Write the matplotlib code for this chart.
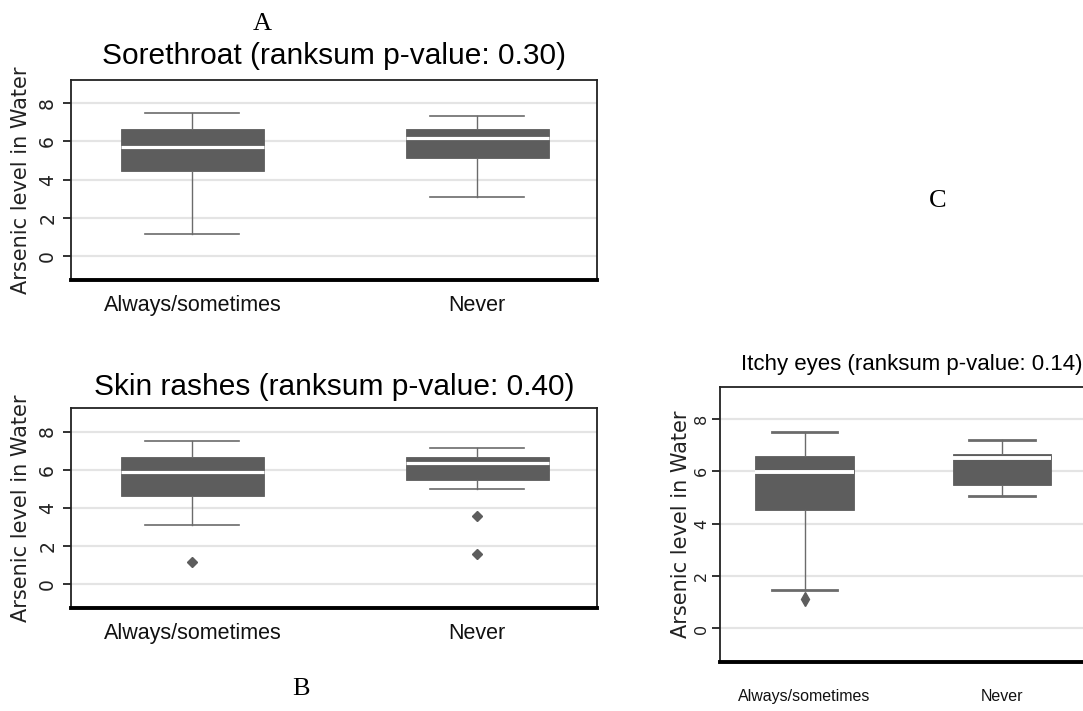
import matplotlib
matplotlib.use("Agg")
import matplotlib.pyplot as plt

# Categories shared by the three panels
groups = ["Always/sometimes", "Never"]
yticks = [0, 2, 4, 6, 8]

# Sorethroat: box statistics of arsenic level in water
sore_q1 = [4.44, 5.14]
sore_med = [5.68, 6.17]
sore_q3 = [6.67, 6.67]
sore_lo = [1.12, 3.09]
sore_hi = [7.49, 7.32]
sore_out = [[], []]

# Skin rashes
rash_q1 = [4.62, 5.47]
rash_med = [5.87, 6.36]
rash_q3 = [6.64, 6.64]
rash_lo = [3.08, 4.98]
rash_hi = [7.48, 7.15]
rash_out = [[1.17], [3.56, 1.57]]

# Itchy eyes
itch_q1 = [4.52, 5.46]
itch_med = [5.98, 6.49]
itch_q3 = [6.58, 6.68]
itch_lo = [1.46, 5.06]
itch_hi = [7.51, 7.21]
itch_out = [[1.13], []]

W, H = 1083, 711
fig = plt.figure(figsize=(W / 100, H / 100), dpi=100)
fig.patch.set_facecolor("white")

BOX = "#5d5d5d"
WHISK = "#6b6b6b"
SANS = ["Liberation Sans", "DejaVu Sans"]


def frac(x0, y0, x1, y1):
    """Pixel box (left, top, right, bottom) -> figure fraction rect."""
    return [x0 / W, 1 - y1 / H, (x1 - x0) / W, (y1 - y0) / H]


def make_stats(q1, med, q3, lo, hi, out):
    return [dict(q1=a, med=m, q3=b, whislo=l, whishi=h, fliers=f, label=g)
            for a, m, b, l, h, f, g in zip(q1, med, q3, lo, hi, out, groups)]


def panel(rect, stats, cap_lw, med_lw, marker, ms, xsize, xpad,
          ysize, ylab_size, ylab_x, ytick_pad, tick_len):
    ax = fig.add_axes(rect)
    ax.bxp(stats, positions=[1, 2], widths=0.5, capwidths=0.33,
           patch_artist=True, showfliers=True,
           boxprops=dict(facecolor=BOX, edgecolor=BOX, linewidth=0.6),
           whiskerprops=dict(color=WHISK, linewidth=1.0),
           capprops=dict(color=WHISK, linewidth=cap_lw),
           medianprops=dict(color="white", linewidth=med_lw, solid_capstyle="butt"),
           flierprops=dict(marker=marker, markerfacecolor=BOX,
                           markeredgecolor=BOX, markersize=ms))
    ax.set_xlim(0.572, 2.42)
    ax.set_ylim(-1.27, 9.22)
    ax.set_yticks(yticks)
    # sideways tick numbers, centred a fixed distance left of the tick marks
    ax.set_yticklabels([str(v) for v in yticks], rotation=90,
                       fontsize=ysize, family="DejaVu Sans", va="center",
                       ha="center", color="#222222")
    ax.set_xticks([1, 2])
    ax.set_xticklabels(groups, fontsize=xsize, family=SANS, color="#111111")
    ax.tick_params(axis="x", length=0, pad=xpad)
    ax.tick_params(axis="y", length=tick_len, width=1.3, pad=ytick_pad,
                   color="#222222")
    ax.yaxis.grid(True, color="#e4e4e4", linewidth=1.6)
    ax.set_axisbelow(True)
    for side in ("top", "left", "right"):
        ax.spines[side].set_linewidth(1.3)
        ax.spines[side].set_color("#222222")
    ax.spines["bottom"].set_linewidth(2.8)
    ax.spines["bottom"].set_color("black")
    ax.set_ylabel("Arsenic level in Water", fontsize=ylab_size,
                  family="DejaVu Sans", color="#222222")
    ax.yaxis.set_label_coords(ylab_x, 0.5)
    return ax


# Panel A: sorethroat
panel(frac(70.5, 80, 597, 280),
      make_stats(sore_q1, sore_med, sore_q3, sore_lo, sore_hi, sore_out),
      cap_lw=1.2, med_lw=2.3, marker="D", ms=5.5, xsize=15.5, xpad=10.5,
      ysize=13.5, ylab_size=15, ylab_x=-0.0754, ytick_pad=10.4, tick_len=6)
fig.text(334 / W, 1 - 63.5 / H, "Sorethroat (ranksum p-value: 0.30)",
         ha="center", va="baseline", fontsize=21.5, family=SANS)

# Panel B: skin rashes
panel(frac(70.5, 408.3, 597, 608.3),
      make_stats(rash_q1, rash_med, rash_q3, rash_lo, rash_hi, rash_out),
      cap_lw=1.2, med_lw=2.3, marker="D", ms=5.5, xsize=15.5, xpad=10.5,
      ysize=13.5, ylab_size=15, ylab_x=-0.0754, ytick_pad=10.4, tick_len=6)
fig.text(334 / W, 1 - 395 / H, "Skin rashes (ranksum p-value: 0.40)",
         ha="center", va="baseline", fontsize=21.5, family=SANS)

# Panel C: itchy eyes
panel(frac(720, 387, 1085, 661.7),
      make_stats(itch_q1, itch_med, itch_q3, itch_lo, itch_hi, itch_out),
      cap_lw=2.0, med_lw=2.8, marker="d", ms=7, xsize=11.5, xpad=20,
      ysize=11.5, ylab_size=15, ylab_x=-0.0795, ytick_pad=7.8, tick_len=5.5)
fig.text(911.7 / W, 1 - 370 / H, "Itchy eyes (ranksum p-value: 0.14)",
         ha="center", va="baseline", fontsize=16, family=SANS)

# Panel letters
SERIF = ["Liberation Serif", "DejaVu Serif"]
fig.text(262 / W, 1 - 24 / H, "A", ha="center", va="center", fontsize=19, family=SERIF)
fig.text(301 / W, 1 - 689 / H, "B", ha="center", va="center", fontsize=19, family=SERIF)
fig.text(938 / W, 1 - 201 / H, "C", ha="center", va="center", fontsize=19, family=SERIF)

fig.savefig("out.png", dpi=100, facecolor="white")
